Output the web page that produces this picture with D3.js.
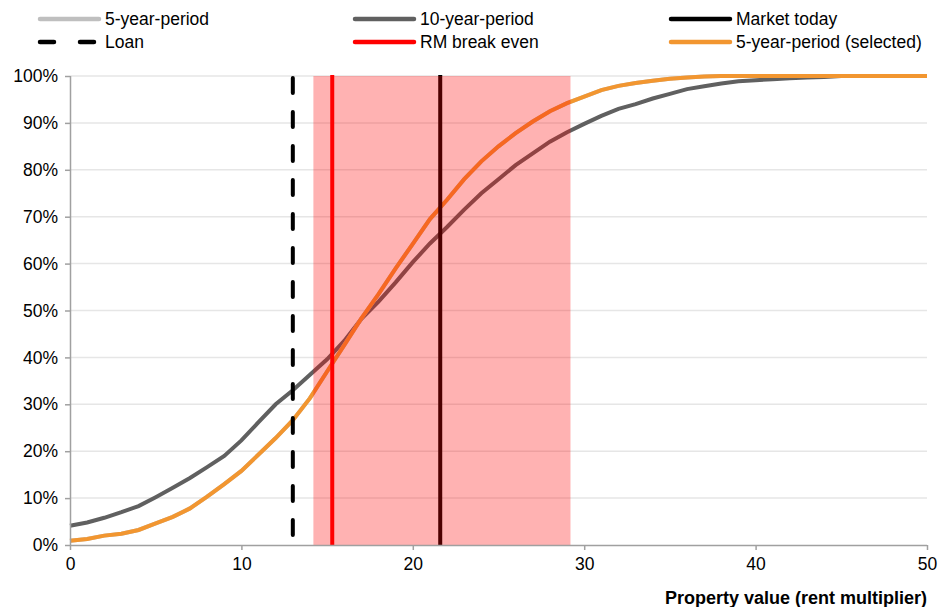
<!DOCTYPE html>
<html><head><meta charset="utf-8">
<script src="https://cdn.jsdelivr.net/npm/d3@7"></script>
<style>body{margin:0;background:#fff}svg{display:block;font-family:"Liberation Sans",Arial,sans-serif}</style>
</head><body><svg id="c" width="941" height="607"></svg>
<script>
const xValues = d3.range(0, 51);
const tenYear = [4.1,4.8,5.8,7.0,8.3,10.2,12.2,14.3,16.6,19.0,22.3,26.2,30.0,33.0,36.3,39.6,43.5,48.2,51.9,56.0,60.3,64.3,67.8,71.5,75.0,78.0,81.0,83.5,86.0,88.0,89.8,91.5,93.0,94.0,95.2,96.2,97.2,97.8,98.4,98.9,99.1,99.3,99.5,99.7,99.8,100,100,100,100,100,100];
const fiveYear = [0.9,1.3,2.0,2.4,3.2,4.6,6.0,7.8,10.3,13.0,15.8,19.3,22.8,26.6,31.3,37.0,42.6,48.3,53.5,59.0,64.2,69.5,73.6,78.0,81.8,85.0,87.8,90.3,92.5,94.2,95.6,97.0,97.9,98.5,99.0,99.4,99.7,99.9,100,100,100,100,100,100,100,100,100,100,100,100,100];
const fiveYearSelected = fiveYear.slice();
const loanValue = 13.0;
const breakEvenValue = 15.3;
const marketTodayValue = 21.6;
const rangeLow = 14.2, rangeHigh = 29.2;
const xTicks = [0,10,20,30,40,50];
const yTicks = [0,10,20,30,40,50,60,70,80,90,100];
const legendItems = [
  {label:"5-year-period", color:"#bfbfbf", dash:null},
  {label:"10-year-period", color:"#606060", dash:null},
  {label:"Market today", color:"#000000", dash:null},
  {label:"Loan", color:"#000000", dash:"dash"},
  {label:"RM break even", color:"#ff0000", dash:null},
  {label:"5-year-period (selected)", color:"#f29630", dash:null}
];
const xTitle = "Property value (rent multiplier)";

const svg = d3.select("#c");
const m = {l:70, r:14, t:76, b:62};
const W = 941, H = 607;
const x = d3.scaleLinear().domain([0,50]).range([m.l, W-m.r]);
const y = d3.scaleLinear().domain([0,100]).range([H-m.b, m.t]);
const FS = 17.5;

// gridlines
svg.append("g").selectAll("line").data(yTicks.filter(d=>d>0)).join("line")
  .attr("x1", x(0)).attr("x2", x(50)).attr("y1", d=>y(d)).attr("y2", d=>y(d))
  .attr("stroke", "#e6e6e6").attr("stroke-width", 1.5);

const line = arr => d3.line().x((d,i)=>x(xValues[i])).y(d=>y(d))(arr);
svg.append("path").attr("d", line(tenYear)).attr("fill","none").attr("stroke","#606060").attr("stroke-width",4);
svg.append("path").attr("d", line(fiveYear)).attr("fill","none").attr("stroke","#bfbfbf").attr("stroke-width",4);
svg.append("path").attr("d", line(fiveYearSelected)).attr("fill","none").attr("stroke","#f29630").attr("stroke-width",4);

// vertical lines
svg.append("line").attr("x1", x(loanValue)).attr("x2", x(loanValue)).attr("y1", y(100)+2).attr("y2", y(0))
  .attr("stroke","#000").attr("stroke-width",4).attr("stroke-dasharray","15,19").attr("stroke-linecap","round");
svg.append("line").attr("x1", x(marketTodayValue)).attr("x2", x(marketTodayValue)).attr("y1", y(100)-1).attr("y2", y(0))
  .attr("stroke","#000").attr("stroke-width",4);

// shaded range
svg.append("rect").attr("x", x(rangeLow)).attr("width", x(rangeHigh)-x(rangeLow))
  .attr("y", y(100)).attr("height", y(0)-y(100)).attr("fill","rgba(255,0,0,0.3)");

svg.append("line").attr("x1", x(breakEvenValue)).attr("x2", x(breakEvenValue)).attr("y1", y(100)-1).attr("y2", y(0))
  .attr("stroke","#ff0000").attr("stroke-width",4);

// axes
const yAxis = d3.axisLeft(y).tickValues(yTicks).tickFormat(d=>d+"%").tickSize(5).tickPadding(7);
const gy = svg.append("g").attr("transform",`translate(${x(0)},0)`).call(yAxis);
const xAxis = d3.axisBottom(x).tickValues(xTicks).tickSize(5).tickPadding(8);
const gx = svg.append("g").attr("transform",`translate(0,${y(0)})`).call(xAxis);
[gx,gy].forEach(g=>{
  g.select(".domain").attr("stroke","#a0a0a0").attr("stroke-width",1.5);
  g.selectAll(".tick line").attr("stroke","#a0a0a0").attr("stroke-width",1.5);
  g.selectAll("text").attr("font-size",FS).attr("fill","#000").attr("font-family","Liberation Sans, Arial, sans-serif");
});
gx.select(".domain").attr("d", `M${x(0)},0.5H${x(50)}`);
gy.select(".domain").attr("d", `M0.5,${y(100)}V${y(0)}`);

svg.append("text").attr("x", x(50)).attr("y", 604).attr("text-anchor","end")
  .attr("font-size",18).attr("font-weight","bold").text(xTitle);

// legend
const colX = [40, 355, 671];
const rowY = [19, 42];
const lg = svg.append("g").selectAll("g").data(legendItems).join("g")
  .attr("transform", (d,i)=>`translate(${colX[i%3]},${rowY[Math.floor(i/3)]})`);
lg.append("line").attr("x1",0).attr("x2",d=>d.dash?58:59).attr("y1",0).attr("y2",0)
  .attr("stroke",d=>d.color).attr("stroke-width",4.5)
  .attr("stroke-dasharray",d=>d.dash?"14,26":null).attr("stroke-linecap","round");
lg.append("text").attr("x",65).attr("y",6).attr("font-size",FS).text(d=>d.label);
</script>
</body></html>
